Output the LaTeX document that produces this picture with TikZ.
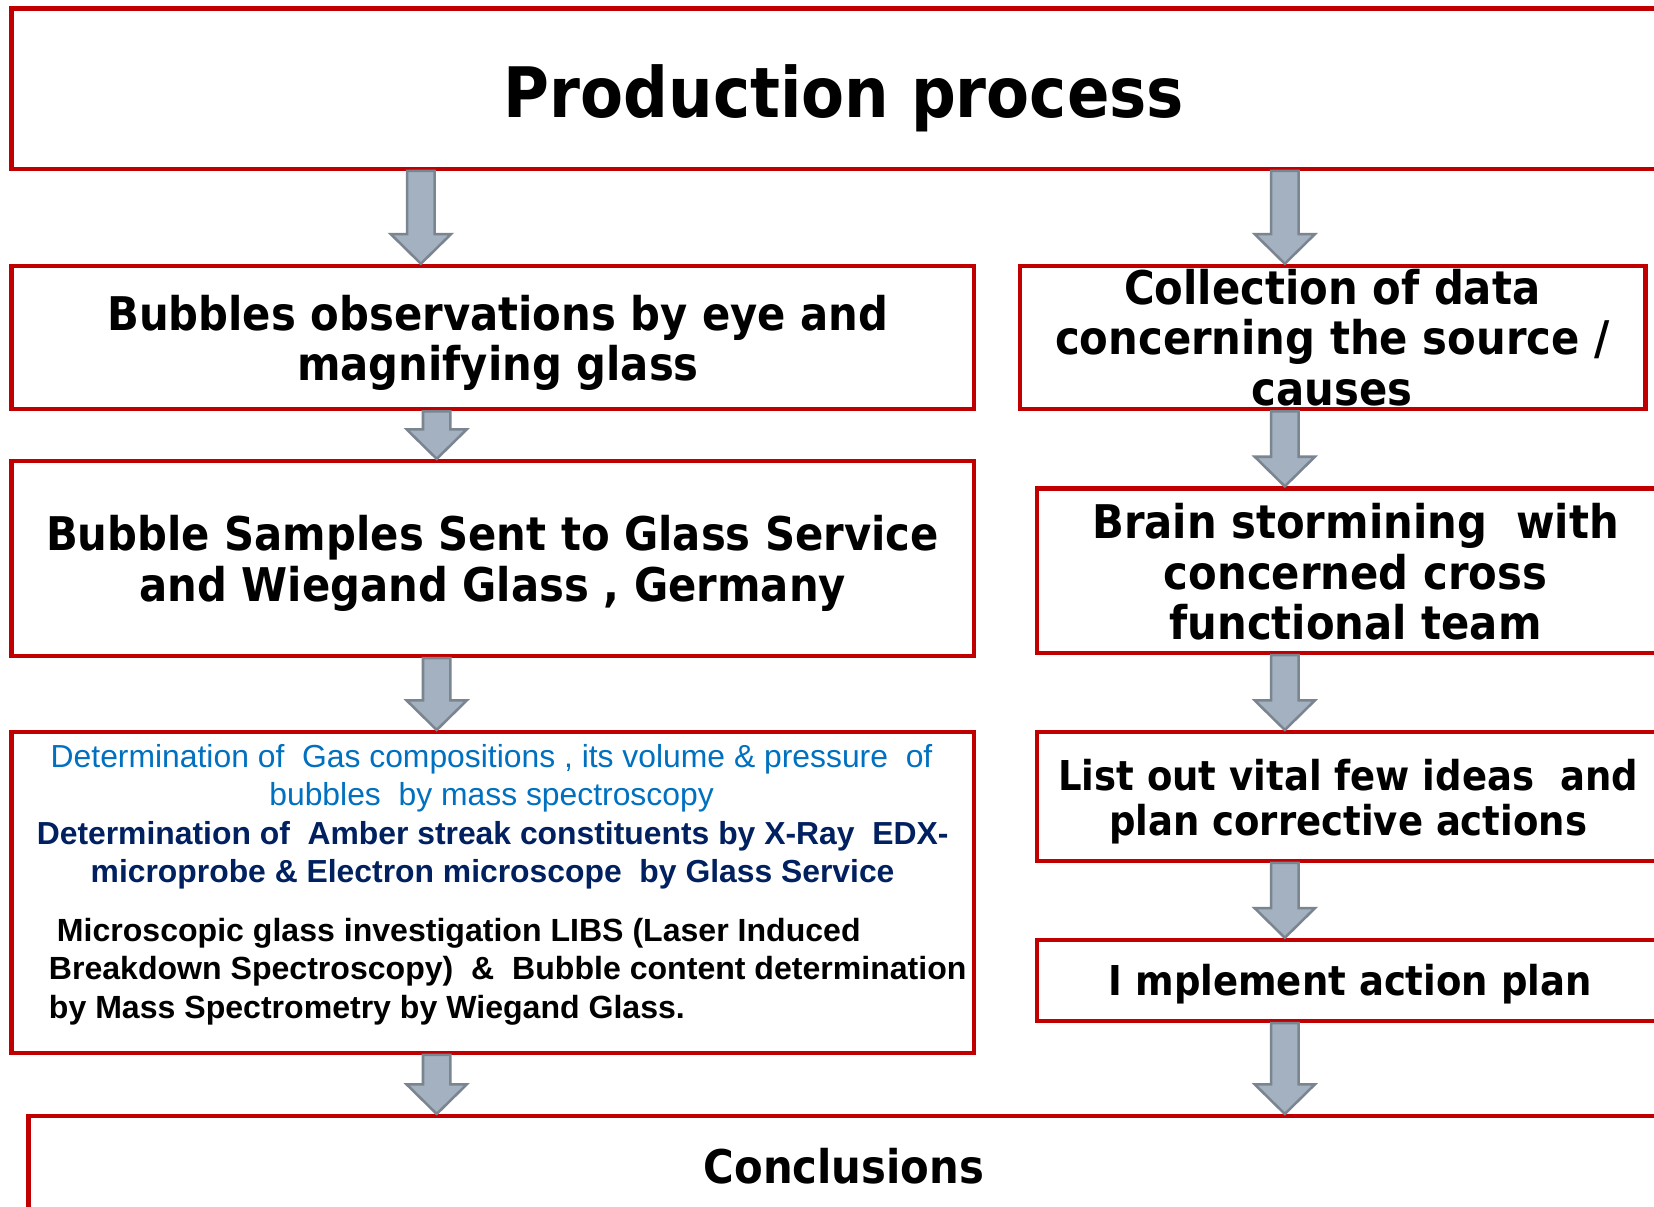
\documentclass[tikz,border=0pt]{standalone}
\usepackage{fontspec}
\setmainfont{Liberation Sans}
\newfontfamily\vfont[FakeStretch=0.9]{DejaVu Sans}
\usetikzlibrary{calc,fit}
\definecolor{boxred}{HTML}{C00000}
\definecolor{arrfill}{HTML}{A3B1C1}
\definecolor{arrline}{HTML}{7B8590}
\definecolor{blueT}{HTML}{0070C0}
\definecolor{navyT}{HTML}{002060}
\tikzset{
  box/.style={draw=boxred, line width=2pt, inner sep=0pt, fill=white},
  bigtxt/.style={font=\vfont\bfseries\fontsize{22}{24}\selectfont, align=center, inner sep=0pt},
  midtxt/.style={font=\vfont\bfseries\fontsize{19.5}{21}\selectfont, align=center, inner sep=0pt},
  smalltxt/.style={font=\fontsize{15.1}{18.25}\selectfont, align=center, inner sep=0pt},
  arr/.style={fill=arrfill, draw=arrline, line width=1.2pt, line join=miter},
}
\newcommand\blockarrow[2]{%
  \path[arr] let \p1=(#1), \p2=(#2) in
   ({\x1-6.5pt},\y1) -- ({\x1+6.5pt},\y1) -- ({\x1+6.5pt},{\y2+14pt}) -- ({\x1+14.25pt},{\y2+14pt})
   -- (\x1,\y2) -- ({\x1-14.25pt},{\y2+14pt}) -- ({\x1-6.5pt},{\y2+14pt}) -- cycle;}
\begin{document}
\begin{tikzpicture}[x=0.5pt,y=-0.5pt]
\useasboundingbox (0,0) rectangle (1568,1144);
\fill[white] (0,0) rectangle (1568,1144);
% boxes
\node[box, fit={(11,8) (1620,160)}] (top) {};
\node[box, fit={(11,252) (923,388)}] (bub) {};
\node[box, fit={(967,252) (1560,388)}] (coll) {};
\node[box, fit={(11,437) (923,622)}] (samp) {};
\node[box, fit={(983,463) (1620,619)}] (brain) {};
\node[box, fit={(11,694) (923,998)}] (det) {};
\node[box, fit={(983,694) (1620,816)}] (list) {};
\node[box, fit={(983,891) (1620,968)}] (impl) {};
\node[box, fit={(27,1058) (1620,1200)}] (concl) {};
% texts
\node[font=\vfont\bfseries\fontsize{33}{36}\selectfont, inner sep=0pt] (ttop) at (800,93) {Production process};
\node[bigtxt] (tbub) at (472,325) {Bubbles observations by eye and\\magnifying glass};
\node[bigtxt] (tcoll) at (1263,320) {Collection of data\\concerning the source /\\causes};
\node[bigtxt] (tsamp) at (467,534) {Bubble Samples Sent to Glass Service\\and Wiegand Glass , Germany};
\node[bigtxt] (tbrain) at (1285,542) {Brain stormining\ \ with\\concerned cross\\functional team};
\node[smalltxt, text=blueT] (tdet1) at (466,738) {Determination of\ \ Gas compositions , its volume \& pressure\ \ of\\bubbles\ \ by mass spectroscopy};
\node[smalltxt, text=navyT, font=\bfseries\fontsize{15.1}{18.25}\selectfont] (tdet2) at (467,811) {Determination of\ \ Amber streak constituents by X-Ray\ \ EDX-\\microprobe \& Electron microscope\ \ by Glass Service};
\node[smalltxt, align=left, anchor=west, font=\bfseries\fontsize{15.2}{18.25}\selectfont] (tdet3) at (46,921) {\hspace*{0.25em}Microscopic glass investigation LIBS (Laser Induced\\Breakdown Spectroscopy)\ \ \&\ \ Bubble content determination\\by Mass Spectrometry by Wiegand Glass.};
\node[midtxt] (tlist) at (1278,760) {List out vital few ideas\ \ and\\plan corrective actions};
\node[midtxt] (timpl) at (1280,933) {I mplement action plan};
\node[bigtxt] (tconcl) at (800,1106) {Conclusions};
% arrow columns
\coordinate (c0) at (399,0);
\coordinate (cl) at (414,0);
\coordinate (cr) at (1218,0);
\blockarrow{c0 |- top.south}{c0 |- bub.north}
\blockarrow{cr |- top.south}{cr |- coll.north}
\blockarrow{cl |- bub.south}{cl |- samp.north}
\blockarrow{cr |- coll.south}{cr |- brain.north}
\blockarrow{cl |- samp.south}{cl |- det.north}
\blockarrow{cr |- brain.south}{cr |- list.north}
\blockarrow{cr |- list.south}{cr |- impl.north}
\blockarrow{cl |- det.south}{cl |- concl.north}
\blockarrow{cr |- impl.south}{cr |- concl.north}
\end{tikzpicture}
\end{document}
